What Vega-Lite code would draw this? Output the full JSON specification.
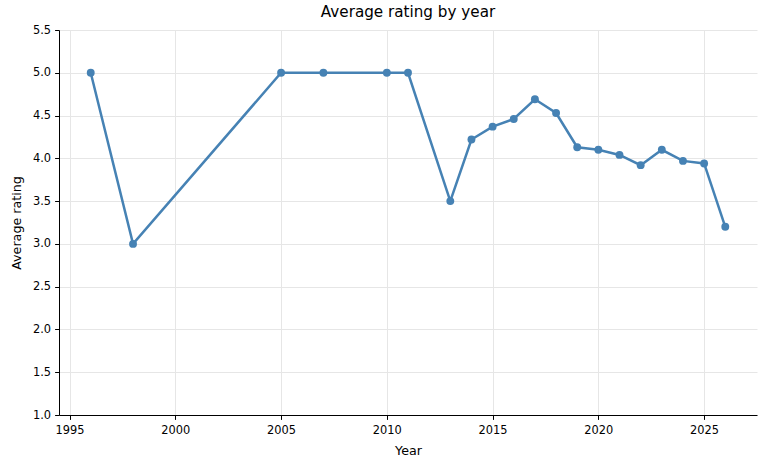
{
  "$schema": "https://vega.github.io/schema/vega-lite/v6.json",
  "width": 698,
  "height": 385,
  "autosize": {"type": "none"},
  "padding": {"left": 59, "top": 30, "right": 9, "bottom": 52},
  "background": "white",
  "title": {
    "text": "Average rating by year",
    "font": "DejaVu Sans",
    "fontSize": 15.2,
    "fontWeight": "normal",
    "color": "black",
    "offset": 4
  },
  "config": {
    "view": {"stroke": null},
    "axis": {
      "labelFont": "DejaVu Sans",
      "titleFont": "DejaVu Sans",
      "labelFontSize": 11.4,
      "titleFontSize": 12.7,
      "titleFontWeight": "normal",
      "labelColor": "black",
      "titleColor": "black",
      "domainColor": "black",
      "domainWidth": 1,
      "tickColor": "black",
      "tickSize": 4.4,
      "tickWidth": 1,
      "labelPadding": 4,
      "gridColor": "#e6e6e6",
      "gridWidth": 1
    }
  },
  "data": {
    "values": [
      {"year": 1996, "rating": 5.0},
      {"year": 1998, "rating": 3.0},
      {"year": 2005, "rating": 5.0},
      {"year": 2007, "rating": 5.0},
      {"year": 2010, "rating": 5.0},
      {"year": 2011, "rating": 5.0},
      {"year": 2013, "rating": 3.5},
      {"year": 2014, "rating": 4.22},
      {"year": 2015, "rating": 4.37},
      {"year": 2016, "rating": 4.46},
      {"year": 2017, "rating": 4.69},
      {"year": 2018, "rating": 4.53},
      {"year": 2019, "rating": 4.13},
      {"year": 2020, "rating": 4.1},
      {"year": 2021, "rating": 4.04},
      {"year": 2022, "rating": 3.92},
      {"year": 2023, "rating": 4.1},
      {"year": 2024, "rating": 3.97},
      {"year": 2025, "rating": 3.94},
      {"year": 2026, "rating": 3.2}
    ]
  },
  "encoding": {
    "x": {
      "field": "year",
      "type": "quantitative",
      "title": "Year",
      "scale": {"domain": [1994.5, 2027.5], "nice": false, "zero": false},
      "axis": {"values": [1995, 2000, 2005, 2010, 2015, 2020, 2025], "format": "d", "labelPadding": 5, "titlePadding": 9, "labelFlush": false, "labelOverlap": false}
    },
    "y": {
      "field": "rating",
      "type": "quantitative",
      "title": "Average rating",
      "scale": {"domain": [1.0, 5.5], "nice": false, "zero": false},
      "axis": {"values": [1.0, 1.5, 2.0, 2.5, 3.0, 3.5, 4.0, 4.5, 5.0, 5.5], "format": ".1f", "titlePadding": 9, "labelFlush": false, "labelOverlap": false}
    }
  },
  "layer": [
    {"mark": {"type": "line", "color": "#4682b4", "strokeWidth": 2.5, "clip": false}},
    {"mark": {"type": "point", "filled": true, "color": "#4682b4", "opacity": 1, "size": 62, "shape": "circle", "clip": false}}
  ]
}
